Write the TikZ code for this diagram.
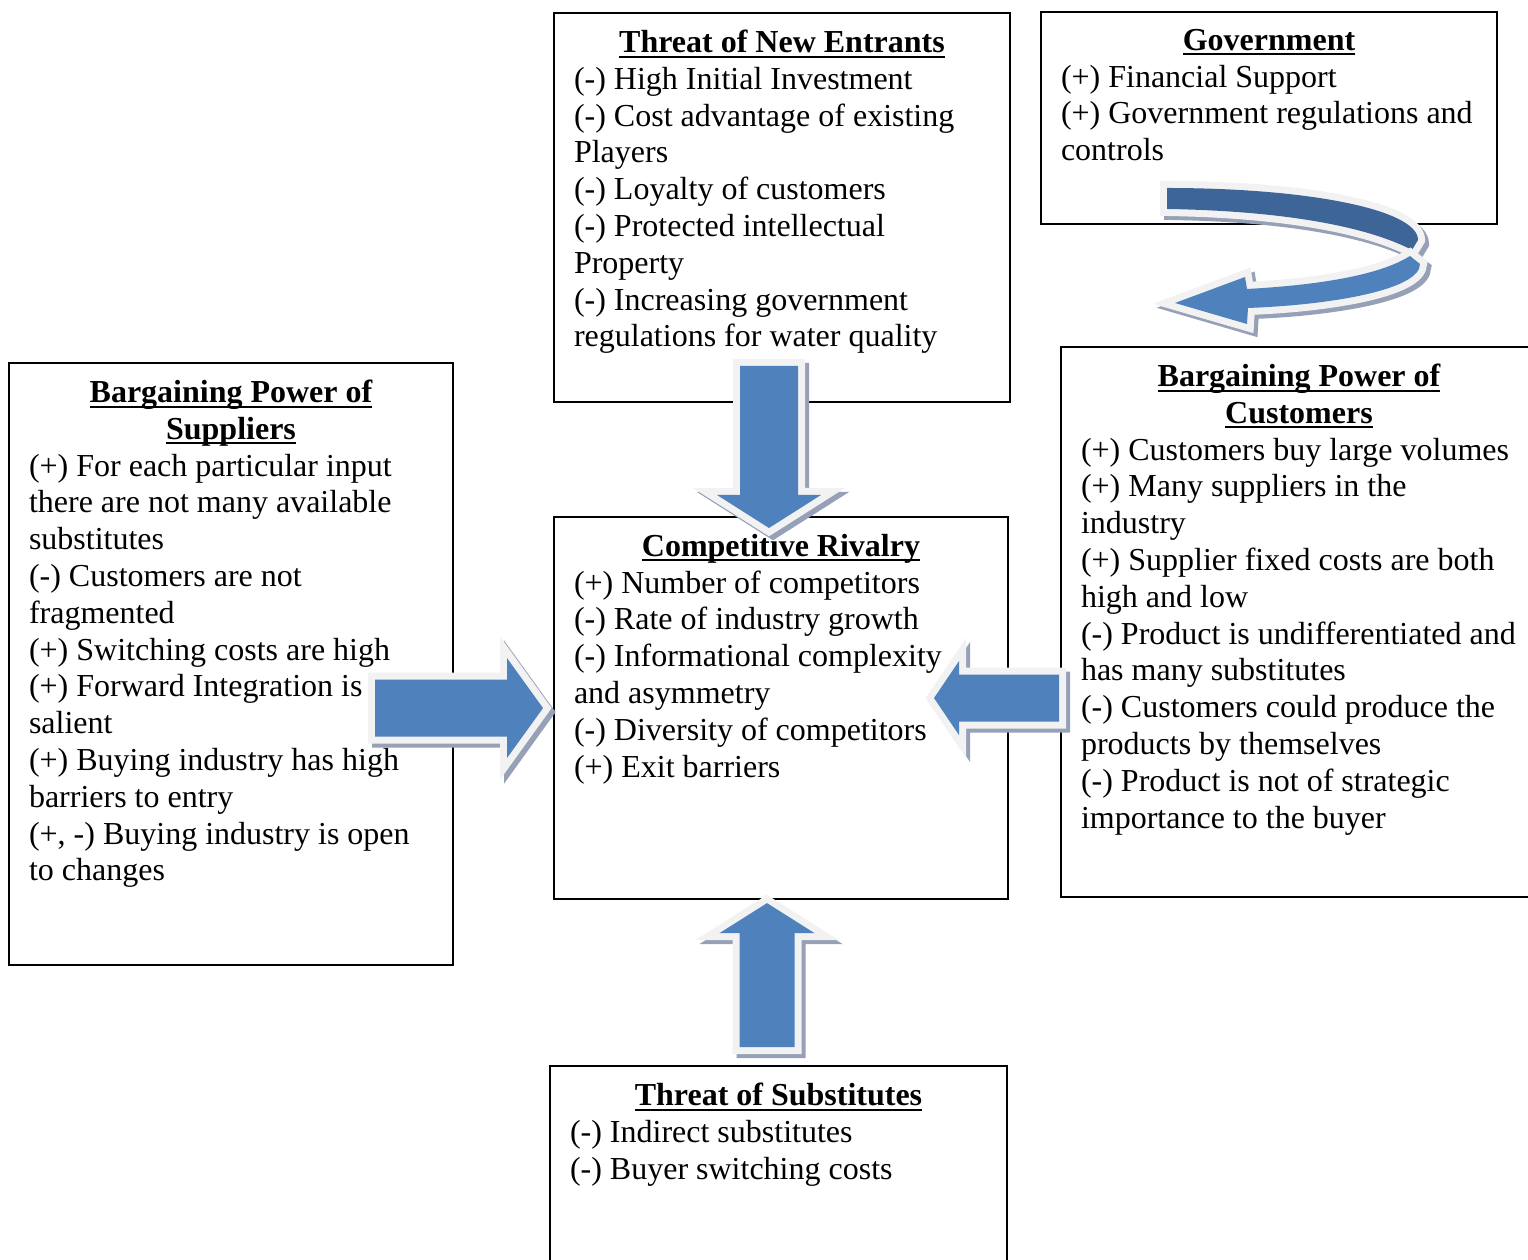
\documentclass[tikz,border=0pt]{standalone}
\usepackage{fontspec}
\setmainfont{Liberation Serif}
\usepackage{xcolor}
\usetikzlibrary{calc}

\definecolor{arrowblue}{RGB}{79,129,189}
\definecolor{arrowdark}{RGB}{62,101,152}
\definecolor{arrowrim}{RGB}{242,242,242}
\definecolor{arrowshade}{RGB}{150,160,182}

\newlength\pxu
\setlength\pxu{0.375pt}
% box contents: width, height (in px), text
\newcommand{\boxtext}[3]{\parbox[t][\dimexpr#2\pxu-13.5pt\relax][t]{\dimexpr#1\pxu-15pt\relax}{\parskip=0pt\raggedright#3}}
\newcommand{\ulword}[1]{\setbox0\hbox{#1}\rlap{\rule[-1.9pt]{\wd0}{0.8pt}}\box0}
\newcommand{\boxtitle}[1]{{\centering\textbf{\ulword{#1}}\par}}
% block arrow: tip, angle, length, shaft, head, head length
\newcommand{\bigarrow}[6]{%
  \filldraw[arrowshade,line width=5.25pt,shift={($(#1)+(4,4)$)},rotate=#2]
    (0,0) -- (-#6,#5) -- (-#6,#4) -- (-#3,#4) -- (-#3,-#4) -- (-#6,-#4) -- (-#6,-#5) -- cycle;
  \filldraw[arrowrim,line width=5.25pt,shift={(#1)},rotate=#2]
    (0,0) -- (-#6,#5) -- (-#6,#4) -- (-#3,#4) -- (-#3,-#4) -- (-#6,-#4) -- (-#6,-#5) -- cycle;
  \fill[arrowblue,shift={(#1)},rotate=#2]
    (0,0) -- (-#6,#5) -- (-#6,#4) -- (-#3,#4) -- (-#3,-#4) -- (-#6,-#4) -- (-#6,-#5) -- cycle;}

\begin{document}
\begin{tikzpicture}[x=0.375pt,y=-0.375pt,
    forcebox/.style={draw,line width=0.75pt,anchor=north west,inner xsep=7.5pt,inner ysep=6.4pt,
      font=\fontsize{12}{13.8}\selectfont}]
  \useasboundingbox (0,0) rectangle (1528,1260);

  \node[forcebox] (entrants) at (553,12) {\boxtext{456}{391}{\boxtitle{Threat of New Entrants}
    (-) High Initial Investment\\
    (-) Cost advantage of existing\\
    Players\\
    (-) Loyalty of customers\\
    (-) Protected intellectual\\
    Property\\
    (-) Increasing government\\
    regulations for water quality}};

  \node[forcebox] (government) at (1040,11) {\boxtext{456}{214}{\boxtitle{Government}
    (+) Financial Support\\
    (+) Government regulations and\\
    controls}};

  \node[forcebox] (suppliers) at (8,362) {\boxtext{444}{604}{\boxtitle{Bargaining Power of}\boxtitle{Suppliers}
    (+) For each particular input\\
    there are not many available\\
    substitutes\\
    (-) Customers are not\\
    fragmented\\
    (+) Switching costs are high\\
    (+) Forward Integration is\\
    salient\\
    (+) Buying industry has high\\
    barriers to entry\\
    (+, -) Buying industry is open\\
    to changes}};

  \node[forcebox] (rivalry) at (553,516) {\boxtext{454}{384}{\boxtitle{Competitive Rivalry}
    (+) Number of competitors\\
    (-) Rate of industry growth\\
    (-) Informational complexity\\
    and asymmetry\\
    (-) Diversity of competitors\\
    (+) Exit barriers}};

  \node[forcebox] (customers) at (1060,346) {\boxtext{476}{552}{\boxtitle{Bargaining Power of}\boxtitle{Customers}
    (+) Customers buy large volumes\\
    (+) Many suppliers in the\\
    industry\\
    (+) Supplier fixed costs are both\\
    high and low\\
    (-) Product is undifferentiated and\\
    has many substitutes\\
    (-) Customers could produce the\\
    products by themselves\\
    (-) Product is not of strategic\\
    importance to the buyer}};

  \node[forcebox] (substitutes) at (549,1065) {\boxtext{457}{230}{\boxtitle{Threat of Substitutes}
    (-) Indirect substitutes\\
    (-) Buyer switching costs}};

  % arrow tips on the rivalry box
  \coordinate (fromEntrants) at ($(rivalry.north)+(-12,12)$);
  \coordinate (fromSuppliers) at ($(rivalry.west)+(-10,0)$);
  \coordinate (fromCustomers) at ($(rivalry.east)+(-75,-10)$);
  \coordinate (fromSubstitutes) at ($(rivalry.south)+(-14,3)$);

  \bigarrow{fromEntrants}{-90}{162}{29}{52}{33}
  \bigarrow{fromSuppliers}{0}{168}{28.5}{50}{36}
  \bigarrow{fromCustomers}{180}{125}{23.5}{37}{25}
  \bigarrow{fromSubstitutes}{90}{144}{27.5}{47.5}{30}

  % curved arrow, government -> customers
  \begin{scope}[shift={(4,4)}]
    \filldraw[arrowshade,line width=5.25pt] (1167,188) .. controls (1310,188) and (1418,210) .. (1418,240)
      -- (1412,250) .. controls (1370,228) and (1290,211) .. (1167,209) -- cycle;
    \filldraw[arrowshade,line width=5.25pt] (1410,256) .. controls (1380,275) and (1320,285) .. (1247,289)
      -- (1245,277) -- (1175,303) -- (1247,324) -- (1248,308) .. controls (1330,305) and (1420,290) .. (1420,264) -- cycle;
  \end{scope}
  \filldraw[arrowrim,line width=5.25pt] (1167,188) .. controls (1310,188) and (1418,210) .. (1418,240)
    -- (1412,250) .. controls (1370,228) and (1290,211) .. (1167,209) -- cycle;
  \fill[arrowdark] (1167,188) .. controls (1310,188) and (1418,210) .. (1418,240)
    -- (1412,250) .. controls (1370,228) and (1290,211) .. (1167,209) -- cycle;
  \filldraw[arrowrim,line width=5.25pt] (1410,256) .. controls (1380,275) and (1320,285) .. (1247,289)
    -- (1245,277) -- (1175,303) -- (1247,324) -- (1248,308) .. controls (1330,305) and (1420,290) .. (1420,264) -- cycle;
  \fill[arrowblue] (1410,256) .. controls (1380,275) and (1320,285) .. (1247,289)
    -- (1245,277) -- (1175,303) -- (1247,324) -- (1248,308) .. controls (1330,305) and (1420,290) .. (1420,264) -- cycle;
\end{tikzpicture}
\end{document}
